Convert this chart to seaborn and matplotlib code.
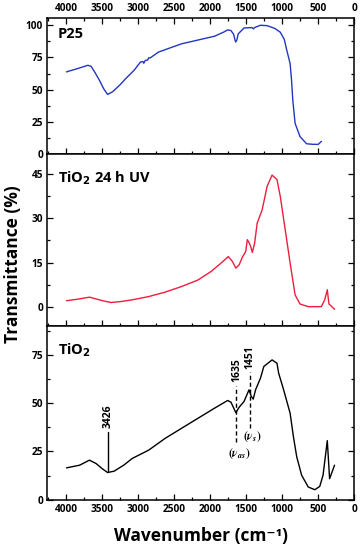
import numpy as np
import seaborn as sns
import pandas as pd
import matplotlib.pyplot as plt
from matplotlib.ticker import MultipleLocator

# P25
wn_p25 = [4000, 3850, 3703, 3657, 3600, 3542, 3480, 3428, 3360, 3260, 3176, 3060, 2970, 2935, 2925,
          2902, 2870, 2856, 2840, 2719, 2550, 2399, 2150, 1941, 1820, 1758, 1712, 1675, 1648,
          1630, 1612, 1530, 1420, 1400, 1385, 1301, 1209, 1100, 1026, 970, 935, 889, 870,
          852, 820, 752, 660, 580, 500, 454]
t_p25 = [63.8, 66.3, 68.9, 68.1, 63.0, 57.3, 50.5, 46.3, 48.3, 53.5, 58.6, 65.0, 71.5, 71.8, 70.5,
         72.8, 73.0, 74.8, 74.5, 79.2, 82.6, 85.6, 88.8, 91.5, 94.5, 96.4, 95.9, 93.0, 87.0,
         88.5, 93.3, 97.9, 98.2, 97.2, 98.2, 100.0, 99.7, 97.5, 94.6, 89.0, 80.5, 70.2, 58.0,
         41.9, 23.9, 13.6, 8.0, 7.6, 7.5, 9.8]

# TiO2 24 h UV
wn_uv = [4000, 3850, 3680, 3588, 3480, 3382, 3250, 3085, 2856, 2627, 2399, 2170, 1987, 1850,
         1749, 1690, 1644, 1598, 1553, 1507, 1484, 1456, 1438, 1415, 1383, 1347, 1278, 1209,
         1140, 1072, 1026, 957, 889, 820, 752, 637, 454, 408, 372, 349, 317, 271]
t_uv = [2.1, 2.6, 3.3, 2.7, 2.0, 1.5, 1.8, 2.4, 3.5, 5.0, 6.9, 9.1, 12.0, 14.8,
        17.0, 15.3, 13.1, 14.2, 16.8, 18.7, 22.7, 21.5, 20.4, 18.4, 21.5, 28.3, 32.8, 40.7,
        44.5, 43.0, 37.3, 26.0, 14.8, 4.1, 1.0, 0.1, 0.1, 2.4, 5.8, 1.0, 0.3, -0.8]

# TiO2
wn_ti = [4000, 3817, 3680, 3588, 3500, 3428, 3337, 3200, 3085, 2856, 2627, 2399, 2170, 1941,
         1758, 1712, 1644, 1598, 1530, 1461, 1429, 1402, 1370, 1301, 1255, 1140, 1072, 1049,
         980, 889, 843, 797, 729, 637, 546, 477, 431, 372, 340, 317, 271]
t_ti = [16.5, 17.9, 20.5, 18.75, 16.0, 14.1, 14.8, 18.0, 21.4, 25.7, 31.8, 37.0, 42.2, 47.4,
        51.4, 50.5, 45.1, 47.9, 50.9, 56.9, 53.5, 52.1, 56.9, 63.0, 69.0, 72.4, 70.7, 65.6,
        57.0, 44.8, 32.6, 22.2, 12.7, 6.6, 5.2, 6.9, 12.7, 30.6, 10.9, 13.2, 17.9]

sns.set_style("ticks")
plt.rcParams['font.family'] = ['Open Sans', 'DejaVu Sans']
plt.rcParams['font.weight'] = 'bold'
plt.rcParams['xtick.direction'] = 'in'
plt.rcParams['ytick.direction'] = 'in'
plt.rcParams['text.color'] = 'black'
plt.rcParams['axes.labelcolor'] = 'black'
plt.rcParams['xtick.color'] = 'black'
plt.rcParams['ytick.color'] = 'black'
plt.rcParams['axes.edgecolor'] = 'black'

fig, axes = plt.subplots(3, 1, figsize=(3.62, 5.51), dpi=100, sharex=True,
                         gridspec_kw={'height_ratios': [136, 172, 174], 'hspace': 0})
fig.subplots_adjust(left=0.130, right=0.978, top=0.967, bottom=0.093)

panels = [
    (wn_p25, t_p25, "#2236c0", (0, 105.5), 25, "P25"),
    (wn_uv, t_uv, "#ee1d3e", (-6.4, 51.6), 15, r"TiO$_\mathbf{2}$ 24 h UV"),
    (wn_ti, t_ti, "black", (0, 90), 25, r"TiO$_\mathbf{2}$"),
]

for ax, (wn, t, col, yl, step, name) in zip(axes, panels):
    df = pd.DataFrame({"wn": wn, "T": t})
    sns.lineplot(data=df, x="wn", y="T", ax=ax, color=col, lw=1.0, sort=False)
    ax.set_ylim(*yl)
    ax.set_xlim(4270, 0)
    ax.yaxis.set_major_locator(MultipleLocator(step))
    ax.yaxis.set_minor_locator(MultipleLocator(step / 2))
    ax.xaxis.set_major_locator(MultipleLocator(500))
    ax.xaxis.set_minor_locator(MultipleLocator(250))
    ax.tick_params(which='both', left=True, right=True, top=False, bottom=True,
                   labelbottom=False, labelsize=7.3, width=0.9, pad=3)
    ax.tick_params(which='major', length=4)
    ax.tick_params(which='minor', length=2.5)
    ax.set_xlabel("")
    ax.set_ylabel("")
    for s in ax.spines.values():
        s.set_linewidth(1.1)
    ax.text(0.036, 0.88 if ax is axes[0] else 0.86, name, transform=ax.transAxes,
            fontsize=10.5, fontweight='bold', va='center', ha='left')

axes[0].tick_params(which='both', top=True, labeltop=True)
axes[2].tick_params(which='both', labelbottom=True)

ax3 = axes[2]
# 3426 band
ax3.plot([3426, 3426], [14.5, 35], color='black', lw=1)
ax3.text(3426, 37, "3426", rotation=90, ha='center', va='bottom', fontsize=7.5, fontweight='bold')
# 1635 band
ax3.plot([1635, 1635], [30, 59], color='black', lw=1, ls=(0, (3, 2)))
ax3.text(1635, 61, "1635", rotation=90, ha='center', va='bottom', fontsize=7.5, fontweight='bold')
ax3.text(1590, 24, r"$(\nu_{as})$", ha='center', va='center', fontsize=8.5, math_fontfamily='stix')
# 1451 band
ax3.plot([1451, 1451], [37, 66], color='black', lw=1, ls=(0, (3, 2)))
ax3.text(1451, 67.5, "1451", rotation=90, ha='center', va='bottom', fontsize=7.5, fontweight='bold')
ax3.text(1410, 32.5, r"$(\nu_{s})$", ha='center', va='center', fontsize=8.5, math_fontfamily='stix')

ax3.set_xlabel("Wavenumber (cm⁻¹)", fontsize=12.5, fontweight='bold', labelpad=9)
fig.text(0.035, 0.52, "Transmittance (%)", rotation=90, ha='center', va='center',
         fontsize=12.5, fontweight='bold')

fig.savefig("out.png", dpi=100)
